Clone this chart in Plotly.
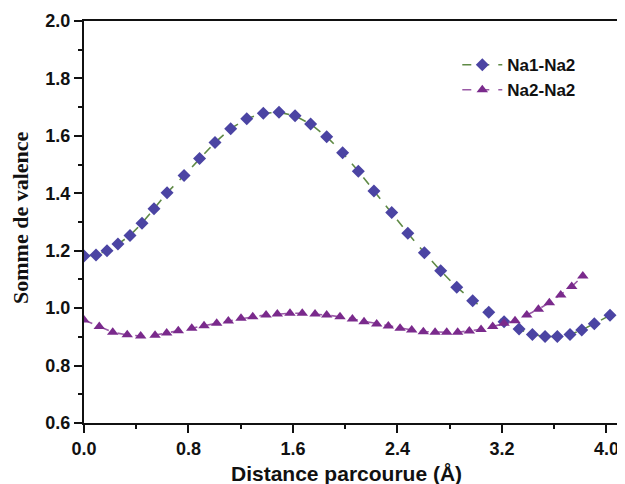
import plotly.graph_objects as go

# Na1-Na2 (diamonds)
x_na1na2 = [0.0, 0.092, 0.176, 0.26, 0.352, 0.444, 0.536, 0.636, 0.766, 0.885, 1.003,
            1.123, 1.246, 1.373, 1.493, 1.616, 1.735, 1.858, 1.980, 2.100, 2.220, 2.356,
            2.479, 2.606, 2.731, 2.854, 2.976, 3.099, 3.216, 3.331, 3.433, 3.530, 3.624,
            3.721, 3.811, 3.907, 4.027]
y_na1na2 = [1.182, 1.185, 1.200, 1.223, 1.253, 1.296, 1.346, 1.402, 1.462, 1.521, 1.577,
            1.625, 1.660, 1.679, 1.682, 1.670, 1.641, 1.597, 1.541, 1.477, 1.408, 1.333,
            1.261, 1.193, 1.130, 1.073, 1.026, 0.986, 0.953, 0.927, 0.908, 0.901, 0.901,
            0.908, 0.924, 0.946, 0.975]

# Na2-Na2 (triangles)
x_na2na2 = [0.0, 0.117, 0.220, 0.331, 0.434, 0.544, 0.633, 0.722, 0.825, 0.919, 1.016,
            1.105, 1.202, 1.292, 1.394, 1.480, 1.577, 1.671, 1.769, 1.858, 1.960, 2.055,
            2.144, 2.241, 2.330, 2.420, 2.509, 2.598, 2.688, 2.777, 2.861, 2.950, 3.040,
            3.129, 3.216, 3.300, 3.390, 3.479, 3.563, 3.650, 3.734, 3.819]
y_na2na2 = [0.959, 0.936, 0.916, 0.907, 0.903, 0.906, 0.913, 0.921, 0.930, 0.939, 0.947,
            0.955, 0.965, 0.970, 0.976, 0.980, 0.982, 0.982, 0.980, 0.976, 0.970, 0.962,
            0.953, 0.945, 0.938, 0.930, 0.924, 0.918, 0.916, 0.916, 0.916, 0.920, 0.926,
            0.936, 0.947, 0.956, 0.976, 0.996, 1.019, 1.046, 1.075, 1.112]

x_ticks = [0.0, 0.8, 1.6, 2.4, 3.2, 4.0]
x_ticklabels = ["0.0", "0.8", "1.6", "2.4", "3.2", "4.0"]
y_ticks = [0.6, 0.8, 1.0, 1.2, 1.4, 1.6, 1.8, 2.0]
y_ticklabels = ["0.6", "0.8", "1.0", "1.2", "1.4", "1.6", "1.8", "2.0"]

x_title = "Distance parcourue (Å)"
y_title = "Somme de valence"

fig = go.Figure()
fig.add_trace(go.Scatter(
    x=x_na1na2, y=y_na1na2, mode="lines+markers", name="Na1-Na2",
    line=dict(color="#5f8a45", width=1.6, dash="dash"),
    marker=dict(symbol="diamond", size=10, color="#4b44a3"),
))
fig.add_trace(go.Scatter(
    x=x_na2na2, y=y_na2na2, mode="lines+markers", name="Na2-Na2",
    line=dict(color="#9a5aa6", width=1.6, dash="dash"),
    marker=dict(symbol="triangle-up", size=10, color="#7a2a8c"),
))

# page body has an 8px default margin, so the figure is shrunk by 8px
fig.update_layout(
    width=617, height=476,
    margin=dict(l=76, r=0, t=13, b=61, autoexpand=False),
    plot_bgcolor="white", paper_bgcolor="white",
    font=dict(family="Liberation Sans, Arial", color="#111111"),
    legend=dict(
        x=0.69, y=0.935, xanchor="left", yanchor="top",
        bgcolor="rgba(0,0,0,0)",
        font=dict(family="Liberation Sans, Arial", size=17, color="#111111", weight="bold"),
        itemwidth=40, tracegroupgap=0,
    ),
    showlegend=True,
    annotations=[
        dict(text="<b>" + x_title + "</b>", xref="paper", yref="paper",
             x=0.485, y=0, yshift=-50, xanchor="center", yanchor="middle",
             showarrow=False,
             font=dict(family="Liberation Sans, Arial", size=21, color="#111111")),
        dict(text="<b>" + y_title + "</b>", xref="paper", yref="paper",
             x=0, y=0.51, xshift=-63, xanchor="center", yanchor="middle",
             textangle=-90, showarrow=False,
             font=dict(family="Liberation Serif, Times New Roman", size=22, color="#111111")),
    ],
)
fig.update_xaxes(
    range=[0, 4.142],
    tickvals=x_ticks, ticktext=x_ticklabels,
    ticks="outside", ticklen=8, tickwidth=2, tickcolor="#111111",
    minor=dict(dtick=0.4, ticks="outside", ticklen=4, tickwidth=2, tickcolor="#111111", showgrid=False),
    showline=True, linecolor="#111111", linewidth=2, mirror=True,
    showgrid=False, zeroline=False, automargin=False,
    tickfont=dict(family="Liberation Sans, Arial", size=18, color="#111111", weight="bold"),
)
fig.update_yaxes(
    range=[0.6, 2.0],
    tickvals=y_ticks, ticktext=y_ticklabels,
    ticks="outside", ticklen=8, tickwidth=2, tickcolor="#111111",
    minor=dict(dtick=0.1, ticks="outside", ticklen=4, tickwidth=2, tickcolor="#111111", showgrid=False),
    showline=True, linecolor="#111111", linewidth=2, mirror=True,
    showgrid=False, zeroline=False, automargin=False,
    tickfont=dict(family="Liberation Sans, Arial", size=18, color="#111111", weight="bold"),
)

fig.write_html("out.html")
